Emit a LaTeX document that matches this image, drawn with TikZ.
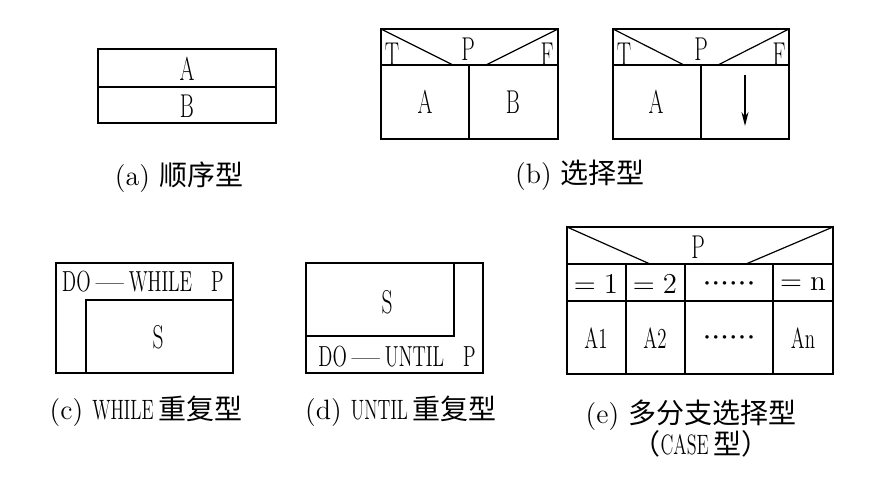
\documentclass[tikz,border=0pt]{standalone}
\usepackage{fontspec}
\newfontfamily\cjk{Noto Sans CJK SC}
\usetikzlibrary{arrows.meta}
\newcommand{\nw}[1]{\scalebox{0.65}[1]{#1}}
\newcommand{\cn}[1]{{\cjk #1}}
\newcommand{\bdot}{\makebox[4.4pt]{\scalebox{0.45}{\textbullet}}}
\newcommand{\dotrow}{\bdot\bdot\bdot\bdot\bdot\bdot}

\begin{document}
\begin{tikzpicture}[x=0.5pt,y=-0.5pt,line width=0.6pt,
  big/.style={font=\fontsize{16.5}{16.5}\selectfont,inner sep=0pt},
  small/.style={font=\fontsize{14.5}{14.5}\selectfont,inner sep=0pt},
  capt/.style={font=\fontsize{14}{14}\selectfont,inner sep=0pt}]
\useasboundingbox (0,0) rectangle (875,485);

% (a) sequence
\draw (98,49) rectangle (276,123);
\draw (98,87) -- (276,87);
\node[big] (seqA) at (187,69) {\nw{A}};
\node[big] (seqB) at (187,106) {\nw{B}};
\node[capt] (capA) at (179,177) {(a) \cn{顺序型}};

% (b) selection, two branches
\draw (381,29) rectangle (558,139);
\draw (381,65) -- (558,65);
\draw (469,65) -- (469,139);
\draw (381,29) -- (453,65);
\draw (486,65) -- (558,29);
\node[big] (selT) at (392,54) {\nw{T}};
\node[big] (selP) at (468,49) {\nw{P}};
\node[big] (selF) at (547,54) {\nw{F}};
\node[big] (selA) at (425,102) {\nw{A}};
\node[big] (selB) at (513,102) {\nw{B}};

% (b) selection, one branch empty
\draw (613,29) rectangle (789,139);
\draw (613,65) -- (789,65);
\draw (701,65) -- (701,139);
\draw (613,29) -- (684,65);
\draw (718,65) -- (789,29);
\node[big] (oneT) at (624,54) {\nw{T}};
\node[big] (oneP) at (701,49) {\nw{P}};
\node[big] (oneF) at (779,54) {\nw{F}};
\node[big] (oneA) at (656,102) {\nw{A}};
\coordinate (arrtop) at (745,75);
\coordinate (arrbot) at (745,126);
\draw [-{Stealth[length=7pt,width=3.5pt]}] (arrtop) -- (arrbot);
\node[capt] (capB) at (580,175) {(b) \cn{选择型}};

% (c) while loop
\draw (56,263) rectangle (233,373);
\draw (86,373) -- (86,300) -- (233,300);
\node[small] (whP) at (143,282) {\nw{DO}\,---\,\nw{WHILE}~~\nw{P}};
\node[big] (whS) at (158,337) {\nw{S}};
\node[capt] (capC) at (146,411) {(c) \nw{WHILE}\,\cn{重复型}};

% (d) until loop
\draw (306,263) rectangle (483,373);
\draw (306,336) -- (454,336) -- (454,263);
\node[big] (unS) at (387,302) {\nw{S}};
\node[small] (unP) at (397,357) {\nw{DO}\,---\,\nw{UNTIL}~~\nw{P}};
\node[capt] (capD) at (401,411) {(d) \nw{UNTIL}\,\cn{重复型}};

% (e) case
\draw (567,227) rectangle (833,374);
\draw (567,264) -- (833,264);
\draw (567,301) -- (833,301);
\foreach \cx in {626,685,773}
  \draw (\cx,264) -- (\cx,374);
\draw (567,227) -- (650,264);
\draw (746,264) -- (833,227);
\node[big] (caseP) at (698,247) {\nw{P}};
\node[small] (eq1) at (596,284) {$=1$};
\node[small] (eq2) at (655,284) {$=2$};
\node[small] (eqdots) at (729,284) {\dotrow};
\node[small] (eqn) at (803,284) {$=\mathrm{n}$};
\node[small] (actA1) at (596,338) {\nw{A1}};
\node[small] (actA2) at (655,338) {\nw{A2}};
\node[small] (actdots) at (729,338) {\dotrow};
\node[small] (actAn) at (803,338) {\nw{An}};
\node[capt] (capE) at (691,415) {(e) \cn{多分支选择型}};
\node[capt] (capE2) at (701,444) {\cn{（}\nw{CASE}\,\cn{型）}};
\end{tikzpicture}
\end{document}
